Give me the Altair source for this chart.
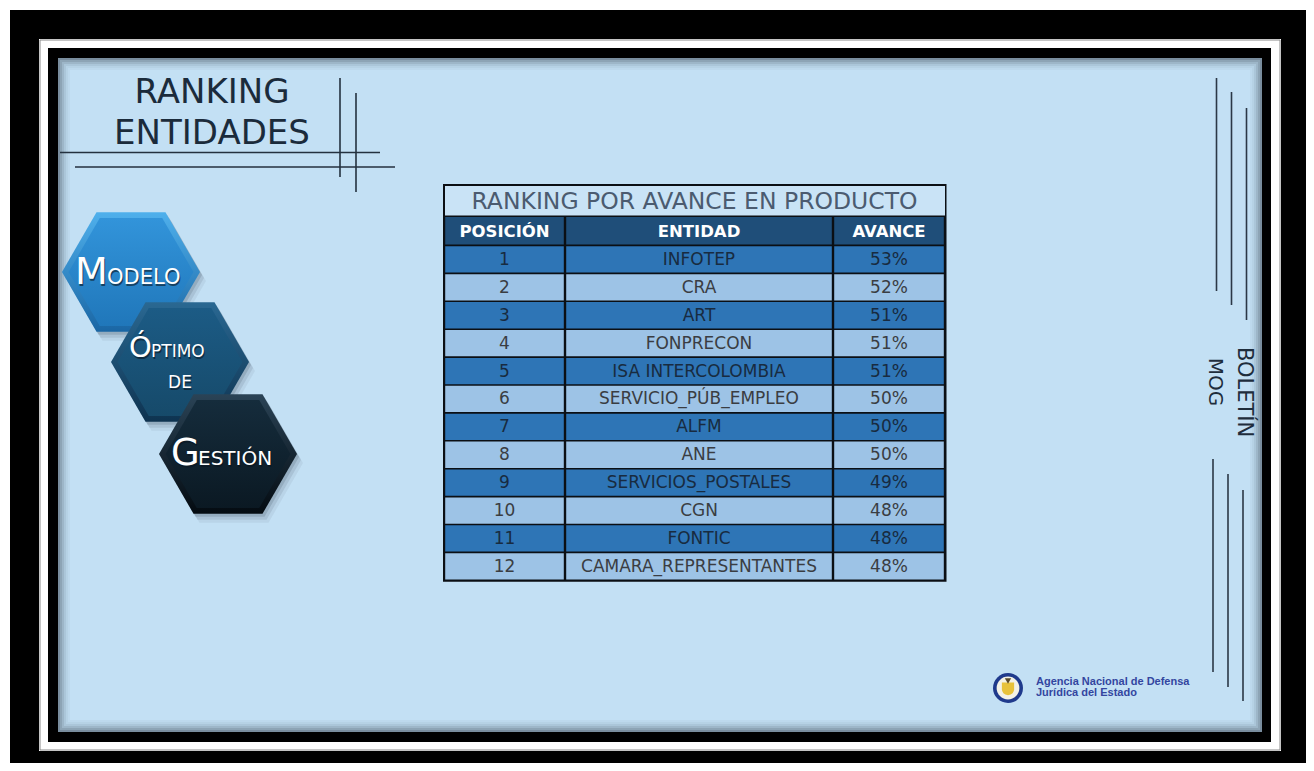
import altair as alt
import pandas as pd

# ------------------------------------------------------------------ data
POSICION = [str(i) for i in range(1, 13)]
ENTIDAD = ["INFOTEP", "CRA", "ART", "FONPRECON", "ISA INTERCOLOMBIA",
           "SERVICIO_PÚB_EMPLEO", "ALFM", "ANE", "SERVICIOS_POSTALES",
           "CGN", "FONTIC", "CAMARA_REPRESENTANTES"]
AVANCE = [53, 52, 51, 51, 51, 50, 50, 50, 49, 48, 48, 48]
HEADERS = ["POSICIÓN", "ENTIDAD", "AVANCE"]
TABLE_TITLE = "RANKING POR AVANCE EN PRODUCTO"
PAGE_TITLE = ["RANKING", "ENTIDADES"]
HEX_BIG = ["M", "Ó", "G"]
HEX_SMALL = ["ODELO", "PTIMO", "ESTIÓN"]
HEX_EXTRA = "DE"
SIDE_TEXT = ["BOLETÍN", "MOG"]
AGENCY = ["Agencia Nacional de Defensa", "Jurídica del Estado"]

# ------------------------------------------------------------------ layout
W, H = 1298, 755
XS = alt.Scale(domain=[8, 8 + W], nice=False, zero=False)
YS = alt.Scale(domain=[8, 8 + H], nice=False, zero=False, reverse=True)


def X(f="x"):
    return alt.X(f"{f}:Q", scale=XS, axis=None)


def Y(f="y"):
    return alt.Y(f"{f}:Q", scale=YS, axis=None)


def rect_layer(df):
    return alt.Chart(df).mark_rect().encode(
        x=X(), x2="x2:Q", y=Y(), y2="y2:Q",
        fill=alt.Fill("fill:N", scale=None),
        stroke=alt.Stroke("stroke:N", scale=None),
        strokeWidth=alt.StrokeWidth("sw:Q", scale=None),
        opacity=alt.Opacity("op:Q", scale=None),
    )


def R(x, x2, y, y2, fill, stroke="transparent", sw=0, op=1.0):
    return dict(x=x, x2=x2, y=y, y2=y2, fill=fill, stroke=stroke, sw=sw, op=op)


def rule_layer(df, color="#24313f", width=1.6):
    return alt.Chart(df).mark_rule(color=color, strokeWidth=width).encode(
        x=X(), x2="x2:Q", y=Y(), y2="y2:Q")


def text_layer(df, **mark):
    enc = dict(x=X(), y=Y(), text="text:N")
    if "size" in df:
        enc["size"] = alt.Size("size:Q", scale=None)
    if "color" in df:
        enc["color"] = alt.Color("color:N", scale=None)
    return alt.Chart(df).mark_text(**mark).encode(**enc)


layers = []

# ---------------- frames
frames = pd.DataFrame([
    R(10, 1310, 10, 775, "#000000"),
    R(39, 1281, 39, 751, "#ffffff"),
    R(40, 1280, 40, 750, "#ffffff", "#8a8a8a", 1),
    R(48, 1271, 48, 742, "#000000"),
    R(58, 1262, 58, 732, "#c3e0f4"),
])
layers.append(rect_layer(frames))

# panel inner shadow
shadow_ops = [0.55, 0.4, 0.28, 0.17, 0.09, 0.04]
shadow = pd.DataFrame([
    R(58 + 1 + 2 * i, 1262 - 1 - 2 * i, 58 + 1 + 2 * i, 732 - 1 - 2 * i,
      "transparent", "#3d4b58", 2, op)
    for i, op in enumerate(shadow_ops)
])
layers.append(rect_layer(shadow))

# ---------------- title block
title_lines = pd.DataFrame([
    dict(x=60, x2=380, y=152.5, y2=152.5),
    dict(x=75, x2=395, y=167, y2=167),
    dict(x=340, x2=340, y=78, y2=177),
    dict(x=356, x2=356, y=93, y2=192),
])
layers.append(rule_layer(title_lines))
layers.append(text_layer(pd.DataFrame({
    "x": [212, 212], "y": [103, 144], "text": PAGE_TITLE}),
    font="DejaVu Sans", fontSize=34, color="#1b2b3b", align="center",
    baseline="alphabetic"))

# ---------------- right side decoration
side_lines = pd.DataFrame([
    dict(x=1216.5, x2=1216.5, y=78, y2=291),
    dict(x=1231.5, x2=1231.5, y=92, y2=305),
    dict(x=1246.5, x2=1246.5, y=108, y2=320),
    dict(x=1213, x2=1213, y=459, y2=672),
    dict(x=1228, x2=1228, y=474, y2=687),
    dict(x=1243, x2=1243, y=490, y2=701),
])
layers.append(rule_layer(side_lines, color="#2b3846", width=1.6))
layers.append(text_layer(pd.DataFrame({
    "x": [1243.5, 1215], "y": [392, 382], "text": SIDE_TEXT,
    "size": [21, 20]}),
    font="DejaVu Sans", color="#1e2d3c", align="center",
    baseline="middle", angle=90))

# ---------------- hexagons
HEX = "M -1 0 L -0.5 -0.866 L 0.5 -0.866 L 1 0 L 0.5 0.866 L -0.5 0.866 Z"
hex_centers = pd.DataFrame({"x": [131, 180, 228], "y": [272, 362, 454]})


def grad(c1, c2):
    return alt.Gradient(gradient="linear", x1=0, x2=0, y1=0, y2=1,
                        stops=[alt.GradientStop(color=c1, offset=0),
                               alt.GradientStop(color=c2, offset=1)])


hex_styles = [
    (("#4fb0ec", "#1a66a4"), ("#3294da", "#2077ba")),
    (("#2a6892", "#0e3350"), ("#1c5b85", "#164a6a")),
    (("#2a4356", "#040b11"), ("#152c3c", "#0b1923")),
]
for i, (edge, face) in enumerate(hex_styles):
    one = hex_centers.iloc[[i]].copy()
    for dx, dy, op in ((2, 3, 0.14), (4, 6, 0.10), (6, 9, 0.06)):
        sh = one.copy()
        sh["x"] += dx
        sh["y"] += dy
        layers.append(alt.Chart(sh).mark_point(
            shape=HEX, filled=True, size=19044, color="#1a2a38", opacity=op
        ).encode(x=X(), y=Y()))
    layers.append(alt.Chart(one).mark_point(
        shape=HEX, filled=True, size=19044, fill=grad(*edge), opacity=1
    ).encode(x=X(), y=Y()))
    layers.append(alt.Chart(one).mark_point(
        shape=HEX, filled=True, size=15600, fill=grad(*face), opacity=1
    ).encode(x=X(), y=Y()))

# hexagon words (small caps look)
big = pd.DataFrame({"x": [75, 129, 171], "y": [284, 357, 465],
                    "text": HEX_BIG, "size": [38, 29, 37]})
small = pd.DataFrame({"x": [107, 151, 198], "y": [284, 357, 465],
                      "text": HEX_SMALL, "size": [21, 17, 20]})
extra = pd.DataFrame({"x": [180], "y": [388], "text": [HEX_EXTRA], "size": [17]})
for df, al in ((big, "left"), (small, "left"), (extra, "center")):
    sh = df.copy()
    sh["x"] += 1
    sh["y"] += 1.5
    layers.append(text_layer(sh, font="DejaVu Sans", color="#0a1520",
                             opacity=0.6, align=al, baseline="alphabetic"))
    layers.append(text_layer(df, font="DejaVu Sans", color="#ffffff",
                             align=al, baseline="alphabetic"))

# ---------------- table
COLS = [444, 565, 833, 945]
TOP_T, TOP_H, ROW0, ROWH = 185, 217, 245.5, 27.9
tbl_bottom = ROW0 + ROWH * len(ENTIDAD)
cells = [R(443, 946.5, 184, tbl_bottom + 1.5, "#0b0f14")]
cells.append(R(445, 945, 186, TOP_H - 1.5, "#c9e3f6"))
for c in range(3):
    cells.append(R(COLS[c] + 1.2, COLS[c + 1] - 1.2, TOP_H, ROW0 - 1,
                   "#1f4e79"))
text_rows = []
for i, (p, e, a) in enumerate(zip(POSICION, ENTIDAD, AVANCE)):
    top = ROW0 + i * ROWH
    odd = i % 2 == 0
    fill = "#2e75b6" if odd else "#9dc3e6"
    tcol = "#182b40" if odd else "#3a3d42"
    for c, val in enumerate([p, e, f"{a}%"]):
        cells.append(R(COLS[c] + 1.2, COLS[c + 1] - 1.2, top + 0.8,
                       top + ROWH - 0.8, fill))
        text_rows.append(dict(x=(COLS[c] + COLS[c + 1]) / 2,
                              y=top + ROWH / 2 + 0.5, text=val, color=tcol))
layers.append(rect_layer(pd.DataFrame(cells)))

layers.append(text_layer(pd.DataFrame({
    "x": [(COLS[0] + COLS[3]) / 2], "y": [201.5], "text": [TABLE_TITLE]}),
    font="DejaVu Sans", fontSize=23.5, color="#4b5b70", align="center",
    baseline="middle"))
layers.append(text_layer(pd.DataFrame({
    "x": [(COLS[c] + COLS[c + 1]) / 2 for c in range(3)],
    "y": [231.5] * 3, "text": HEADERS}),
    font="DejaVu Sans", fontSize=16.5, fontWeight="bold", color="#ffffff",
    align="center", baseline="middle"))
layers.append(text_layer(pd.DataFrame(text_rows), font="DejaVu Sans",
                         fontSize=17, align="center", baseline="middle"))

# ---------------- agency logo
emb = pd.DataFrame({"x": [1008], "y": [688]})
layers.append(alt.Chart(emb).mark_point(shape="circle", filled=True, size=900,
                                        color="#1f3a8c", opacity=1).encode(x=X(), y=Y()))
layers.append(alt.Chart(emb).mark_point(shape="circle", filled=True, size=520,
                                        color="#f4f2e6", opacity=1).encode(x=X(), y=Y()))
SHIELD = "M -1 -0.9 L 1 -0.9 L 1 0.2 Q 1 1 0 1.2 Q -1 1 -1 0.2 Z"
layers.append(alt.Chart(emb).mark_point(shape=SHIELD, filled=True, size=150,
                                        color="#e8c23a", opacity=1).encode(x=X(), y=Y()))
layers.append(alt.Chart(pd.DataFrame({"x": [1008], "y": [681]})).mark_point(
    shape="triangle-down", filled=True, size=40, color="#5a4a2a", opacity=1
).encode(x=X(), y=Y()))
layers.append(text_layer(pd.DataFrame({
    "x": [1036, 1036], "y": [685, 695.5], "text": AGENCY}),
    font="Liberation Sans", fontSize=11, fontWeight="bold",
    color="#3346a0", align="left", baseline="alphabetic"))

chart = alt.layer(*layers).properties(
    width=W, height=H, padding=0, autosize=alt.AutoSizeParams(type="none"),
    background="#ffffff",
).configure_view(stroke=None)

chart.save("out.html", embed_options={"renderer": "svg", "actions": False})
